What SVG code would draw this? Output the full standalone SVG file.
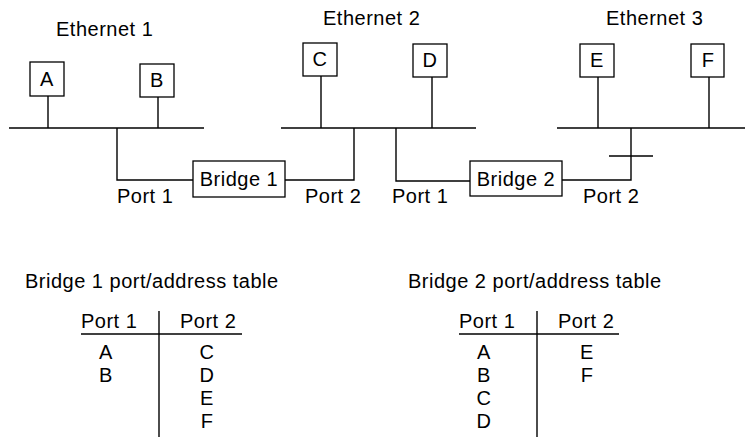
<svg xmlns="http://www.w3.org/2000/svg" width="745" height="438" viewBox="0 0 745 438">
<style>
text{font-family:"Liberation Sans",Arial,sans-serif;font-size:20px;fill:#000;letter-spacing:0.5px}
.m{text-anchor:middle}
.box{fill:#fff;stroke:#000;stroke-width:1.3}
.ln{fill:none;stroke:#000;stroke-width:1.4}
</style>
<rect width="745" height="438" fill="#fff"/>
<g id="labels">
<text x="56" y="36">Ethernet 1</text>
<text x="323" y="25">Ethernet 2</text>
<text x="606" y="25">Ethernet 3</text>
<text x="117" y="203">Port 1</text>
<text x="305" y="203">Port 2</text>
<text x="392" y="203">Port 1</text>
<text x="583" y="203">Port 2</text>
</g>
<g id="connectors" class="ln">
<line x1="9" y1="128" x2="204" y2="128"/>
<line x1="281" y1="128" x2="476" y2="128"/>
<line x1="557" y1="128" x2="745" y2="128"/>
<line x1="48" y1="96" x2="48" y2="128"/>
<line x1="158" y1="97" x2="158" y2="128"/>
<line x1="321" y1="76" x2="321" y2="128"/>
<line x1="432" y1="77" x2="432" y2="128"/>
<line x1="598" y1="77" x2="598" y2="128"/>
<line x1="709" y1="77" x2="709" y2="128"/>
<polyline points="117,128 117,180 193,180"/>
<polyline points="354,128 354,180 285,180"/>
<polyline points="396,128 396,181 470,181"/>
<polyline points="631,128 631,180 562,180"/>
<line x1="609" y1="156" x2="653" y2="156"/>
</g>
<g id="A"><rect class="box" x="30" y="62" width="34" height="34"/><text class="m" x="47" y="86">A</text></g>
<g id="B"><rect class="box" x="140" y="64" width="34" height="33"/><text class="m" x="157" y="87">B</text></g>
<g id="C"><rect class="box" x="303" y="43" width="34" height="33"/><text class="m" x="320" y="66">C</text></g>
<g id="D"><rect class="box" x="413" y="44" width="34" height="33"/><text class="m" x="430" y="67">D</text></g>
<g id="E"><rect class="box" x="580" y="44" width="34" height="33"/><text class="m" x="597" y="67">E</text></g>
<g id="F"><rect class="box" x="691" y="44" width="33" height="33"/><text class="m" x="708" y="67">F</text></g>
<g id="bridge1"><rect class="box" x="193" y="161" width="92" height="36"/><text class="m" x="239" y="186">Bridge 1</text></g>
<g id="bridge2"><rect class="box" x="470" y="161" width="92" height="35"/><text class="m" x="516" y="186">Bridge 2</text></g>
<g id="table1">
<text x="25" y="288">Bridge 1 port/address table</text>
<text x="81" y="328">Port 1</text>
<text x="180" y="328">Port 2</text>
<line class="ln" x1="81" y1="334" x2="242" y2="334"/>
<line class="ln" x1="159" y1="311" x2="159" y2="437"/>
<text class="m" x="106" y="359">A</text>
<text class="m" x="106" y="382">B</text>
<text class="m" x="207" y="359">C</text>
<text class="m" x="207" y="382">D</text>
<text class="m" x="207" y="405">E</text>
<text class="m" x="207" y="428">F</text>
</g>
<g id="table2">
<text x="408" y="288">Bridge 2 port/address table</text>
<text x="459" y="328">Port 1</text>
<text x="558" y="328">Port 2</text>
<line class="ln" x1="459" y1="334" x2="619" y2="334"/>
<line class="ln" x1="537" y1="311" x2="537" y2="437"/>
<text class="m" x="484" y="359">A</text>
<text class="m" x="484" y="382">B</text>
<text class="m" x="484" y="405">C</text>
<text class="m" x="484" y="428">D</text>
<text class="m" x="587" y="359">E</text>
<text class="m" x="587" y="382">F</text>
</g>
</svg>
